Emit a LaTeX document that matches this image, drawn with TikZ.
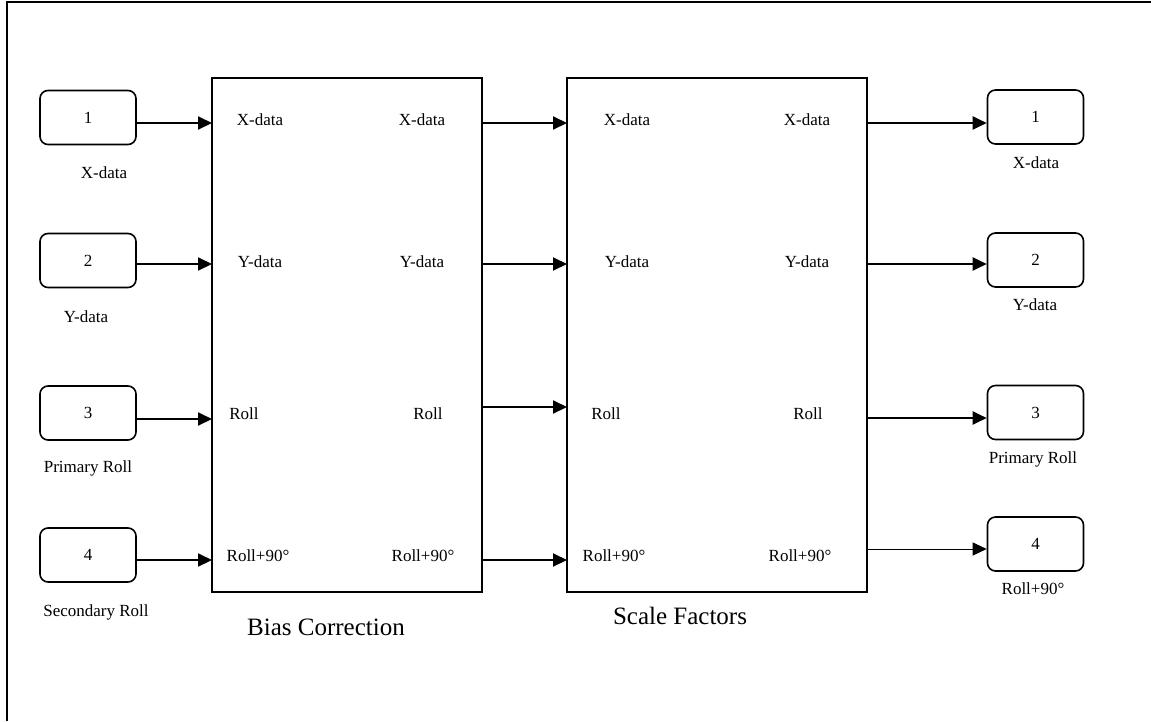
\documentclass[tikz,border=0pt]{standalone}
\usepackage{fontspec}
\setmainfont{Liberation Serif}
\usetikzlibrary{arrows.meta}
\tikzset{
  io/.style={draw, line width=1.6pt, rounded corners=8pt, minimum width=96pt, minimum height=54pt, inner sep=0pt, font=\fontsize{17}{17}\selectfont},
  block/.style={draw, line width=1.8pt, inner sep=0pt},
  lbl/.style={font=\fontsize{17}{17}\selectfont, inner sep=0pt},
  title/.style={font=\fontsize{25}{25}\selectfont, inner sep=0pt},
  conn/.style={line width=2pt, -{Triangle[length=14pt,width=13pt]}},
  thinconn/.style={line width=1pt, -{Triangle[length=14pt,width=13pt]}},
  frame/.style={line width=1.2pt}
}
\begin{document}
\begin{tikzpicture}[x=1pt,y=-1pt]
\useasboundingbox (0,0) rectangle (1151,721);
% frame
\coordinate (fTL) at (7,2);
\coordinate (fTR) at (1151,2);
\coordinate (fBL) at (7,721);
\draw[frame] (fBL) -- (fTL) -- (fTR);

% blocks
\node[block, minimum width=270pt, minimum height=514pt] (bias) at (347,335) {};
\node[block, minimum width=300pt, minimum height=514pt] (scale) at (717,335) {};
\node[title] (biast) at (326,627) {Bias Correction};
\node[title] (scalet) at (680,616) {Scale Factors};

% input boxes
\node[io] (in1) at (88,117.5) {1};
\node[io] (in2) at (88,260.5) {2};
\node[io] (in3) at (88,413) {3};
\node[io] (in4) at (88,555) {4};
\node[lbl] at (104,173) {X-data};
\node[lbl] at (86,317) {Y-data};
\node[lbl] at (88,468) {Primary Roll};
\node[lbl] at (96,612) {Secondary Roll};

% output boxes
\node[io] (out1) at (1035.5,117) {1};
\node[io] (out2) at (1035.5,260) {2};
\node[io] (out3) at (1035.5,412.5) {3};
\node[io] (out4) at (1035.5,544) {4};
\node[lbl] at (1036,163) {X-data};
\node[lbl] at (1035,305) {Y-data};
\node[lbl] at (1033,459) {Primary Roll};
\node[lbl] at (1033,589) {Roll+90°};

% port labels bias
\node[lbl] (bx1) at (260,120) {X-data};
\node[lbl] (bx2) at (422,120) {X-data};
\node[lbl] (by1) at (260,262) {Y-data};
\node[lbl] (by2) at (422,262) {Y-data};
\node[lbl] (br1) at (244,414) {Roll};
\node[lbl] (br2) at (428,414) {Roll};
\node[lbl] (bq1) at (258,556) {Roll+90°};
\node[lbl] (bq2) at (423,556) {Roll+90°};
% port labels scale
\node[lbl] (sx1) at (627,120) {X-data};
\node[lbl] (sx2) at (807,120) {X-data};
\node[lbl] (sy1) at (627,262) {Y-data};
\node[lbl] (sy2) at (807,262) {Y-data};
\node[lbl] (sr1) at (606,414) {Roll};
\node[lbl] (sr2) at (808,414) {Roll};
\node[lbl] (sq1) at (614,556) {Roll+90°};
\node[lbl] (sq2) at (800,556) {Roll+90°};

% port coordinates
\coordinate (bi1) at (212,123);
\coordinate (bi2) at (212,264);
\coordinate (bi3) at (212,419);
\coordinate (bi4) at (212,560);
\coordinate (si1) at (567,123);
\coordinate (si2) at (567,264);
\coordinate (si3) at (567,407);
\coordinate (si4) at (567,560);
\coordinate (so1) at (867,123);
\coordinate (so2) at (867,264);
\coordinate (so3) at (867,418);
\coordinate (so4) at (867,549);

% connectors
\draw[conn] (in1.east |- bi1) -- (bi1);
\draw[conn] (in2.east |- bi2) -- (bi2);
\draw[conn] (in3.east |- bi3) -- (bi3);
\draw[conn] (in4.east |- bi4) -- (bi4);
\draw[conn] (bias.east |- si1) -- (si1);
\draw[conn] (bias.east |- si2) -- (si2);
\draw[conn] (bias.east |- si3) -- (si3);
\draw[conn] (bias.east |- si4) -- (si4);
\draw[conn] (so1) -- (out1.west |- so1);
\draw[conn] (so2) -- (out2.west |- so2);
\draw[conn] (so3) -- (out3.west |- so3);
\draw[thinconn] (so4) -- (out4.west |- so4);
\end{tikzpicture}
\end{document}
